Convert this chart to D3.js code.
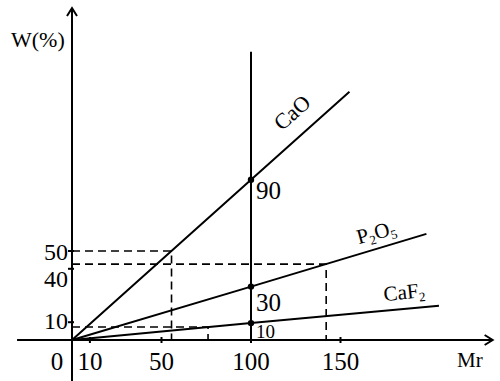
<!DOCTYPE html>
<html><head><meta charset="utf-8">
<script src="https://cdn.jsdelivr.net/npm/d3@7"></script>
<style>
html,body{margin:0;padding:0;background:#fff;}
svg text{font-family:"Liberation Serif","Times New Roman",Times,serif;fill:#000;}
</style></head>
<body><svg id="c" width="500" height="381"></svg>
<script>
// ---- data ----
const xTicks = [10, 50, 100, 150];
const yTicks = [10, 40, 50];
const seriesNames = ["CaO", "P2O5", "CaF2"];
const seriesMr = [[0, 100, 155], [0, 100, 198], [0, 100, 205]];
const seriesW  = [[0, 90, 139.5], [0, 30, 59.6], [0, 9.5, 19.3]];
const markLabels = ["90", "30", "10"];
const guideMr = [55.6, 142, 76];   // dashed guide intersections
const guideW  = [50, 42.6, 7.3];
const refMr = 100;

const svg = d3.select("#c");
const x = d3.scaleLinear().domain([0, 100]).range([72, 251]);
const y = d3.scaleLinear().domain([0, 50]).range([340, 251]);

const g = svg.append("g");
const stroke = "#000";
const FF = "Liberation Serif, Times New Roman, serif";

// axes
g.append("line").attr("x1", x(-30.7)).attr("x2", x(235)).attr("y1", y(0)).attr("y2", y(0))
  .attr("stroke", stroke).attr("stroke-width", 2);
g.append("line").attr("x1", x(0)).attr("x2", x(0)).attr("y1", y(-23)).attr("y2", y(186.5))
  .attr("stroke", stroke).attr("stroke-width", 2);
// arrowheads
const tipX = [x(235), y(0)], tipY = [x(0), y(186.5)];
g.append("path").attr("d", `M${tipX[0]-8},${tipX[1]-5}L${tipX[0]},${tipX[1]}L${tipX[0]-8},${tipX[1]+5}`)
  .attr("fill", "none").attr("stroke", stroke).attr("stroke-width", 2);
g.append("path").attr("d", `M${tipY[0]-5},${tipY[1]+8}L${tipY[0]},${tipY[1]}L${tipY[0]+5},${tipY[1]+8}`)
  .attr("fill", "none").attr("stroke", stroke).attr("stroke-width", 2);

// ticks
g.selectAll(".xt").data(xTicks).join("line")
  .attr("x1", d => x(d)).attr("x2", d => x(d)).attr("y1", y(0) - 3).attr("y2", y(0) + 3)
  .attr("stroke", stroke).attr("stroke-width", 2);
g.selectAll(".yt").data(yTicks).join("line")
  .attr("x1", x(0) - 4).attr("x2", x(0) + 2).attr("y1", d => y(d)).attr("y2", d => y(d))
  .attr("stroke", stroke).attr("stroke-width", 2);

// tick labels
g.selectAll(".xl").data(xTicks).join("text")
  .attr("x", d => x(d)).attr("y", y(0) + 30).attr("text-anchor", "middle")
  .attr("font-family", FF).attr("font-size", 25).text(d => d);
g.append("text").attr("x", x(0) - 15).attr("y", y(0) + 30).attr("text-anchor", "middle")
  .attr("font-family", FF).attr("font-size", 25).text("0");
const yLabelDy = d => d === 50 ? 9 : d === 40 ? 18 : 7;
g.selectAll(".yl").data(yTicks).join("text")
  .attr("x", x(0) - 4).attr("y", d => y(d) + yLabelDy(d)).attr("text-anchor", "end")
  .attr("font-family", FF).attr("font-size", 24).text(d => d);

// axis titles
g.append("text").attr("x", 11).attr("y", 47).attr("font-family", FF).attr("font-size", 22).text("W(%)");
g.append("text").attr("x", 457).attr("y", 367).attr("font-family", FF).attr("font-size", 21).text("Mr");

// vertical reference line at Mr=100
g.append("line").attr("x1", x(refMr)).attr("x2", x(refMr)).attr("y1", y(0)).attr("y2", y(162))
  .attr("stroke", stroke).attr("stroke-width", 2);

// dashed guides
guideMr.forEach((m, i) => {
  const w = guideW[i];
  g.append("path")
    .attr("d", `M${x(0)},${y(w)}L${x(m)},${y(w)}L${x(m)},${y(0)}`)
    .attr("fill", "none").attr("stroke", stroke).attr("stroke-width", 1.6)
    .attr("stroke-dasharray", "8,5");
});

// series lines
const line = d3.line().x(d => x(d[0])).y(d => y(d[1]));
seriesMr.forEach((ms, i) => {
  const pts = ms.map((m, j) => [m, seriesW[i][j]]);
  g.append("path").attr("d", line(pts)).attr("fill", "none")
    .attr("stroke", stroke).attr("stroke-width", 2);
  g.append("circle").attr("cx", x(pts[1][0])).attr("cy", y(pts[1][1])).attr("r", 3.2).attr("fill", stroke);
});

// value labels near dots
const markSizes = [25, 25, 19];
const markDy = [19, 24, 15];
markLabels.forEach((t, i) => {
  g.append("text").attr("x", x(refMr) + 5).attr("y", y(seriesW[i][1]) + markDy[i])
    .attr("font-family", FF).attr("font-size", markSizes[i]).text(t);
});

// series name labels (rotated along lines)
function nameLabel(cx, cy, ang, parts, fs) {
  const t = g.append("text").attr("transform", `translate(${cx},${cy}) rotate(${ang})`)
    .attr("text-anchor", "middle").attr("font-family", FF).attr("font-size", fs);
  parts.forEach(p => {
    if (p.sub) t.append("tspan").attr("font-size", fs * 0.62).attr("dy", 4).text(p.t);
    else t.append("tspan").attr("dy", p.back ? -4 : 0).text(p.t);
  });
}
nameLabel(297, 118, -42, [{t: "CaO"}], 22);
nameLabel(378, 239, -15, [{t: "P"}, {t: "2", sub: true}, {t: "O", back: true}, {t: "5", sub: true}], 21);
nameLabel(405, 299, -6, [{t: "CaF"}, {t: "2", sub: true}], 21);
</script></body></html>
